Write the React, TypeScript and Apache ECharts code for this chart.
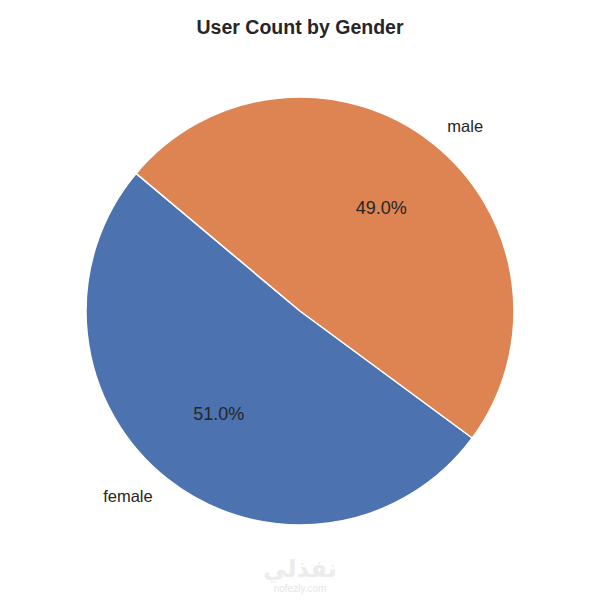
import React, { useEffect, useRef } from "react";
import * as echarts from "echarts";

const categories = ["female", "male"];
const values = [51.0, 49.0];
const colors = ["#4C72B0", "#DD8452"];
const titleText = "User Count by Gender";

export default function App() {
  const ref = useRef<HTMLDivElement>(null);
  useEffect(() => {
    if (!ref.current) return;
    const chart = echarts.init(ref.current, null, { renderer: "svg" });
    const data = categories.map((c, i) => ({
      name: c,
      value: values[i],
      itemStyle: { color: colors[i] },
    }));
    const font = "'Liberation Sans', Arial, sans-serif";
    chart.setOption({
      animation: false,
      backgroundColor: "#ffffff",
      title: {
        text: titleText,
        left: "center",
        top: 12,
        textStyle: { fontFamily: font, fontSize: 19.5, fontWeight: "bold", color: "#262626" },
      },
      graphic: [
        {
          type: "text",
          left: "center",
          top: 557,
          style: { text: "نفذلي", fontSize: 24, fontWeight: "bold", fill: "#ececec", fontFamily: "'DejaVu Sans', sans-serif" },
          silent: true,
        },
        {
          type: "text",
          left: "center",
          top: 583,
          style: { text: "nofezly.com", fontSize: 10, fill: "#e6e6e6", fontFamily: font },
          silent: true,
        },
      ],
      series: [
        {
          type: "pie",
          center: [300, 311],
          radius: [0, 214],
          startAngle: 140,
          clockwise: false,
          avoidLabelOverlap: false,
          data,
          itemStyle: { borderColor: "#ffffff", borderWidth: 1.5 },
          label: {
            show: true,
            position: "outside",
            formatter: "{b}",
            fontFamily: font,
            fontSize: 16.5,
            color: "#262626",
            distanceToLabelLine: 2,
          },
          labelLine: { show: false, length: 21, length2: 0 },
          emphasis: { disabled: true },
          silent: true,
        },
        {
          type: "pie",
          center: [300, 311],
          radius: [0, 257],
          startAngle: 140,
          clockwise: false,
          avoidLabelOverlap: false,
          data: categories.map((c, i) => ({ name: c, value: values[i] })),
          itemStyle: { color: "rgba(0,0,0,0)" },
          label: {
            show: true,
            position: "inside",
            formatter: (p: any) => p.value.toFixed(1) + "%",
            fontFamily: font,
            fontSize: 18,
            color: "#262626",
          },
          labelLine: { show: false },
          emphasis: { disabled: true },
          silent: true,
          z: 3,
        },
      ],
    });
    return () => chart.dispose();
  }, []);
  return (
    <div
      ref={ref}
      style={{ position: "fixed", left: 0, top: 0, width: 600, height: 600 }}
    />
  );
}
